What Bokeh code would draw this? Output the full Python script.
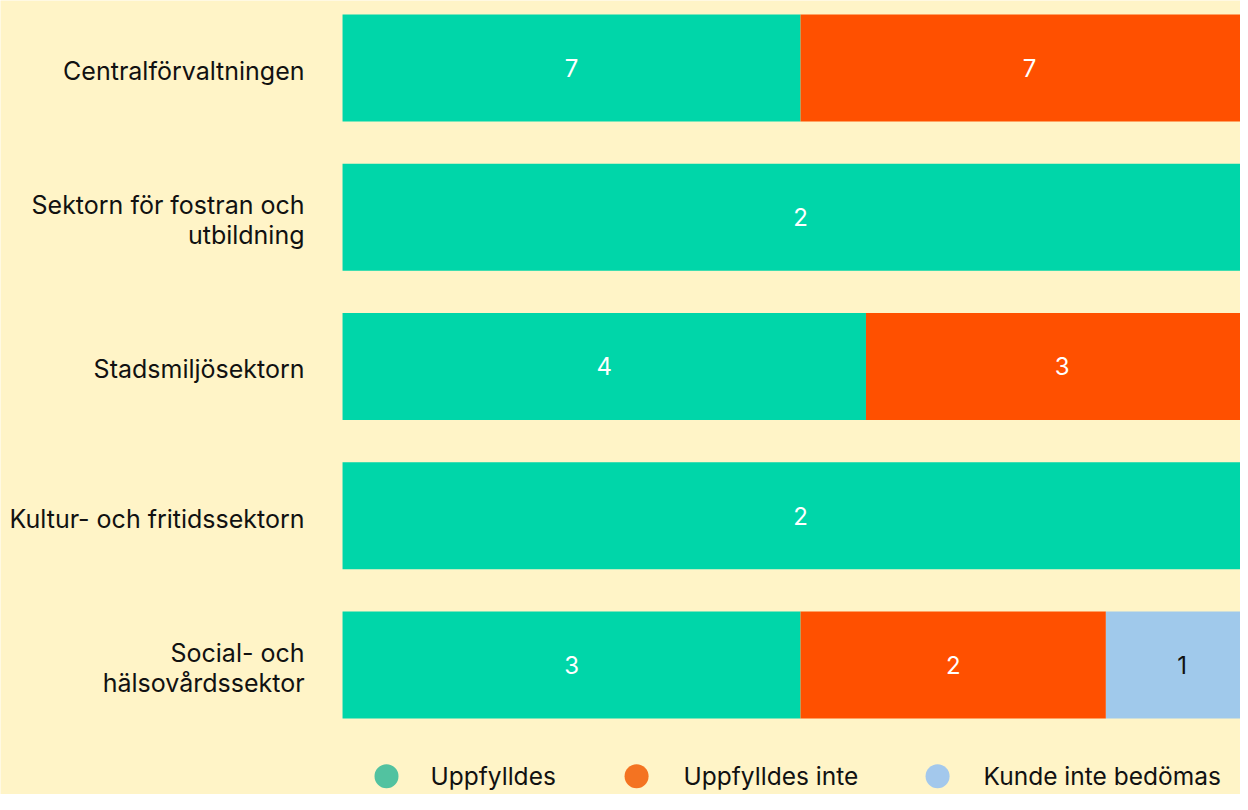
from bokeh.plotting import figure
from bokeh.models import ColumnDataSource, Range1d
from bokeh.core.properties import value
from bokeh.embed import file_html
from bokeh.resources import INLINE

# ---- data ----
categories = [
    "Centralförvaltningen",
    "Sektorn för fostran och\nutbildning",
    "Stadsmiljösektorn",
    "Kultur- och fritidssektorn",
    "Social- och\nhälsovårdssektor",
]
uppfylldes = [7, 2, 4, 2, 3]
uppfylldes_inte = [7, 0, 3, 0, 2]
kunde_inte_bedomas = [0, 0, 0, 0, 1]
series_names = ["Uppfylldes", "Uppfylldes inte", "Kunde inte bedömas"]

# ---- style ----
BG = "#FFF4C7"
bar_colors = ["#00D6A9", "#FF5000", "#A0C9EB"]
legend_colors = ["#52C2A0", "#F47321", "#A3C8EC"]
value_text_colors = ["#FFFFFF", "#FFFFFF", "#111111"]
FONT = value("Inter")

series = [uppfylldes, uppfylldes_inte, kunde_inte_bedomas]
n = len(categories)
rows = list(range(n))
totals = [sum(s[i] for s in series) for i in range(n)]

p = figure(
    width=1240, height=794,
    x_range=Range1d(-37.34, 98.03),
    y_range=Range1d(4.868, -0.4523),
    output_backend="svg", toolbar_location=None,
    x_axis_location=None, y_axis_location=None,
    min_border=0, background_fill_color=BG, border_fill_color=BG,
    outline_line_color=None,
)
p.xgrid.visible = False
p.ygrid.visible = False

left = [0.0] * n
for s, vals in enumerate(series):
    share = [100.0 * v / t for v, t in zip(vals, totals)]
    right = [l + sh for l, sh in zip(left, share)]
    src = ColumnDataSource(dict(y=rows, left=left, right=right))
    p.hbar(y="y", left="left", right="right", height=0.717,
           fill_color=bar_colors[s], line_color=None, source=src)
    idx = [i for i in range(n) if vals[i] > 0]
    lab = ColumnDataSource(dict(
        x=[(left[i] + right[i]) / 2 for i in idx],
        y=[rows[i] for i in idx],
        t=[str(vals[i]) for i in idx],
    ))
    p.text(x="x", y="y", text="t", source=lab, text_align="center",
           text_baseline="middle", text_font=FONT, text_font_size="24px",
           text_color=value_text_colors[s])
    left = right

# category labels
cat_src = ColumnDataSource(dict(x=[0] * n, y=rows, t=categories))
p.text(x="x", y="y", text="t", source=cat_src, x_offset=-38, y_offset=3,
       text_align="right", text_baseline="middle", text_font=FONT,
       text_font_size="25px", text_color="#111111", text_line_height=1.0)

# legend
legend_y = 4.745
leg_marker_x = [4.80, 32.10, 64.96]
leg_text_x = [9.61, 37.23, 69.98]
p.scatter(x=leg_marker_x, y=[legend_y] * 3, size=24, marker="circle",
          fill_color=legend_colors, line_color=None)
p.text(x=leg_text_x, y=[legend_y] * 3, text=series_names, text_align="left",
       text_baseline="middle", text_font=FONT, text_font_size="24.5px",
       text_color="#111111")

open("out.html", "w").write(file_html(p, INLINE))
